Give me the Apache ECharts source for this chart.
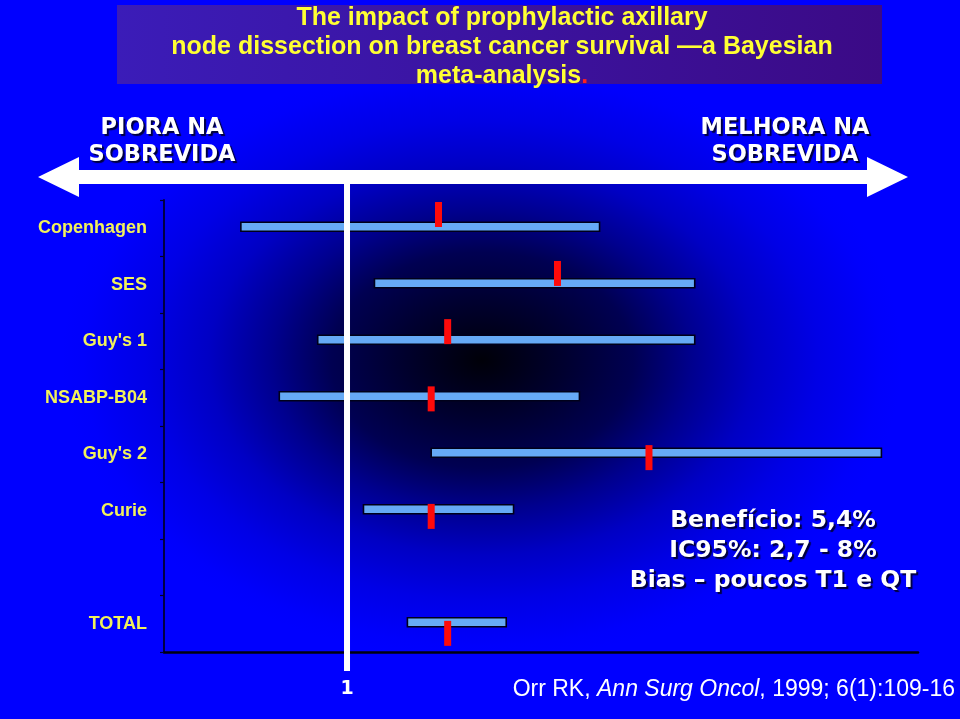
<!DOCTYPE html>
<html>
<head>
<meta charset="utf-8">
<script src="https://cdn.jsdelivr.net/npm/echarts@6/dist/echarts.min.js"></script>
<style>html,body{margin:0;padding:0;background:#0000ff;}#c{width:960px;height:719px;}</style>
</head>
<body>
<div id="c"></div>
<script>
// ---- data ----
const categories = ['Copenhagen', 'SES', "Guy's 1", 'NSABP-B04', "Guy's 2", 'Curie', '', 'TOTAL'];
const ciLow   = [0.42, 1.15, 0.84, 0.63, 1.46, 1.09, null, 1.33];
const ciHigh  = [2.38, 2.90, 2.90, 2.27, 3.92, 1.91, null, 1.87];
const pointEst = [1.50, 2.15, 1.55, 1.46, 2.65, 1.46, null, 1.55];
const refValue = 1;
const xTickLabels = ['1'];
const titleLines = ['The impact of prophylactic axillary', 'node dissection on breast cancer survival \u2014a Bayesian', 'meta-analysis'];
const leftNote = ['PIORA NA', 'SOBREVIDA'];
const rightNote = ['MELHORA NA', 'SOBREVIDA'];
const summaryLines = ['Benef\u00edcio: 5,4%', 'IC95%: 2,7 - 8%', 'Bias \u2013 poucos T1 e QT'];
const citation = ['Orr RK, ', 'Ann Surg Oncol', ', 1999; 6(1):109-16'];

// ---- style (vertical nudges of the red marks, in band units) ----
const markerNudge = [-0.243, -0.2, -0.17, 0.02, 0.06, 0.1, 0, 0.17];

const chart = echarts.init(document.getElementById('c'), null, {renderer: 'canvas'});

const ciData = [], ptData = [];
categories.forEach((c, i) => {
  if (ciLow[i] != null) {
    ciData.push([ciLow[i], ciHigh[i], i]);
    ptData.push([pointEst[i], i, markerNudge[i]]);
  }
});

function renderCI(params, api) {
  const a = api.coord([api.value(0), api.value(2)]);
  const b = api.coord([api.value(1), api.value(2)]);
  const h = 9;
  const cy = a[1] - 1.5;
  return {type: 'rect', shape: {x: a[0], y: cy - h / 2, width: b[0] - a[0], height: h},
    style: {fill: '#66aaf6', stroke: '#00001a', lineWidth: 1.6}};
}
function renderPt(params, api) {
  const p = api.coord([api.value(0), api.value(1)]);
  const band = api.size([0, 1])[1];
  const cy = p[1] + api.value(2) * band;
  return {type: 'rect', shape: {x: p[0] - 3.5, y: cy - 12.5, width: 7, height: 25},
    style: {fill: '#ff0a0a'}};
}
function renderRef(params, api) {
  const p = api.coord([api.value(0), 0]);
  const cs = params.coordSys;
  return {type: 'rect', shape: {x: p[0] - 3, y: cs.y - 17, width: 6, height: cs.height + 36},
    style: {fill: '#ffffff'}};
}

const shadow = {textShadowColor: 'rgba(0,0,40,0.9)', textShadowOffsetX: 2, textShadowOffsetY: 2, textShadowBlur: 1};

const option = {
  backgroundColor: '#0000ff',
  animation: false,
  grid: {left: 164, right: 42, top: 200, bottom: 67, containLabel: false},
  xAxis: {
    type: 'value', min: 0, max: 4.12, interval: 1,
    axisLine: {show: true, lineStyle: {color: '#00000f', width: 2.5}},
    axisTick: {show: false}, splitLine: {show: false},
    axisLabel: {
      margin: 28, color: '#ffffff', fontFamily: 'DejaVu Sans', fontWeight: 'bold', fontSize: 19,
      textShadowColor: 'rgba(0,0,40,0.9)', textShadowOffsetX: 1.5, textShadowOffsetY: 1.5,
      formatter: v => (xTickLabels.indexOf(String(v)) >= 0 ? String(v) : '')
    }
  },
  yAxis: {
    type: 'category', inverse: true, data: categories,
    axisLine: {show: true, lineStyle: {color: '#000030', width: 1.8}},
    axisTick: {show: true, length: 4, lineStyle: {color: '#000030', width: 1.2}},
    axisLabel: {margin: 17, color: '#f2f25a', fontFamily: 'Liberation Sans', fontWeight: 'bold', fontSize: 18},
    splitLine: {show: false}
  },
  graphic: [
    {type: 'circle', z: -100, x: 482, y: 360, scaleX: 1.4, scaleY: 1, silent: true,
      shape: {cx: 0, cy: 0, r: 300},
      style: {fill: {type: 'radial', x: 0.5, y: 0.5, r: 0.5, colorStops: [
        {offset: 0, color: '#000008'}, {offset: 0.2, color: '#000030'}, {offset: 0.36, color: '#000052'},
        {offset: 0.5, color: '#00008e'}, {offset: 0.65, color: '#0000c4'}, {offset: 0.8, color: '#0000e6'},
        {offset: 0.95, color: '#0000fc'}, {offset: 1, color: '#0000ff'}]}}},
    {type: 'rect', z: -50, silent: true, shape: {x: 117, y: 5, width: 765, height: 79},
      style: {fill: {type: 'linear', x: 0, y: 0, x2: 1, y2: 0, colorStops: [
        {offset: 0, color: '#3b1cb8'}, {offset: 1, color: '#3b0a86'}]}}},
    {type: 'text', z: 10, x: 502, y: 4, silent: true,
      style: {text: titleLines[0] + '\n' + titleLines[1] + '\n' + titleLines[2] + '{r|.}',
        fill: '#ffff33', font: 'bold 25px "Liberation Sans"', align: 'center', verticalAlign: 'top', lineHeight: 29,
        rich: {r: {fill: '#ff2020', font: 'bold 25px "Liberation Sans"', lineHeight: 29}}}},
    // arrow
    {type: 'polygon', z: 5, silent: true,
      shape: {points: [[38, 177], [79, 157], [79, 170], [867, 170], [867, 157], [908, 177], [867, 197], [867, 184], [79, 184], [79, 197]]},
      style: {fill: '#ffffff'}},
    {type: 'text', z: 10, x: 162, y: 115, silent: true,
      style: Object.assign({text: leftNote.join('\n'), fill: '#ffffff', font: 'bold 22.5px "DejaVu Sans"', align: 'center', verticalAlign: 'top', lineHeight: 27}, shadow)},
    {type: 'text', z: 10, x: 785, y: 115, silent: true,
      style: Object.assign({text: rightNote.join('\n'), fill: '#ffffff', font: 'bold 22.5px "DejaVu Sans"', align: 'center', verticalAlign: 'top', lineHeight: 27}, shadow)},
    {type: 'text', z: 10, x: 773, y: 506, silent: true,
      style: Object.assign({text: summaryLines.join('\n'), fill: '#ffffff', font: 'bold 23.5px "DejaVu Sans"', align: 'center', verticalAlign: 'top', lineHeight: 30}, shadow)},
    {type: 'text', z: 10, x: 955, y: 690, silent: true,
      style: {text: '{n|' + citation[0] + '}{i|' + citation[1] + '}{n|' + citation[2] + '}',
        align: 'right', verticalAlign: 'middle',
        rich: {n: {fill: '#ffffff', font: '23px "Liberation Sans"'}, i: {fill: '#ffffff', font: 'italic 23px "Liberation Sans"'}}}}
  ],
  series: [
    {type: 'custom', name: 'ci', renderItem: renderCI, data: ciData, encode: {x: [0, 1], y: 2}, z: 2, clip: false},
    {type: 'custom', name: 'ref', renderItem: renderRef, data: [[refValue, 0]], encode: {x: 0, y: 1}, z: 3, clip: false},
    {type: 'custom', name: 'pt', renderItem: renderPt, data: ptData, encode: {x: 0, y: 1}, z: 4, clip: false}
  ]
};
chart.setOption(option);
</script>
</body>
</html>
